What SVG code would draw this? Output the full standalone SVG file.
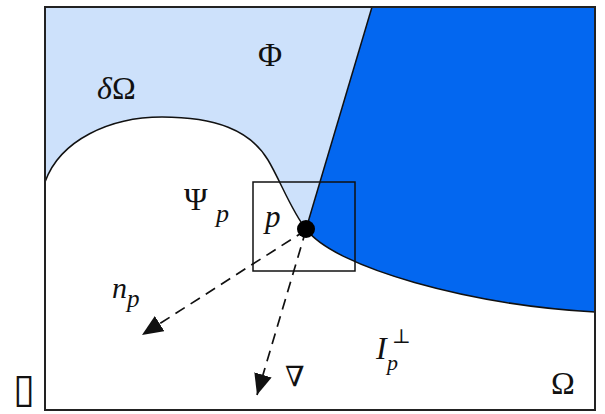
<svg xmlns="http://www.w3.org/2000/svg" width="605" height="414" viewBox="0 0 605 414">
<defs>
<style>
.lbl{font-family:"Liberation Serif","DejaVu Serif",serif;fill:#111;}
.it{font-style:italic;}
.edge{fill:none;stroke:#111;stroke-width:1.5;}
.dash{fill:none;stroke:#111;stroke-width:1.7;stroke-dasharray:11 7;}
</style>
<marker id="ah" markerUnits="userSpaceOnUse" markerWidth="24" markerHeight="20" refX="21" refY="9" orient="auto">
<path d="M0,0 L21,9 L0,18 Z" fill="#111"/>
</marker>
</defs>
<rect x="0" y="0" width="605" height="414" fill="#fff"/>
<g id="region-phi">
<path d="M45,182 C60,140 110,117 162,117 C215,117 250,130 268,160 C280,180 292,212 306,229 L372,7 L45,7 Z" fill="#cde1fb"/>
</g>
<g id="region-dark">
<path d="M306,229 C335,268 470,305 595,312 L595,7 L372,7 Z" fill="#0367f0"/>
</g>
<g id="boundary">
<path class="edge" d="M45,182 C60,140 110,117 162,117 C215,117 250,130 268,160 C280,180 292,212 306,229 C335,268 470,305 595,312"/>
<path class="edge" d="M372,7 L306,229"/>
</g>
<g id="frame">
<rect x="45" y="7" width="550" height="403" fill="none" stroke="#222" stroke-width="2"/>
</g>
<g id="window">
<rect x="253" y="182" width="102" height="89" fill="none" stroke="#111" stroke-width="1.5"/>
</g>
<g id="connectors">
<line class="dash" x1="306" y1="230" x2="142" y2="335" marker-end="url(#ah)"/>
<line class="dash" x1="306" y1="230" x2="257" y2="395" marker-end="url(#ah)"/>
</g>
<g id="point-p">
<circle cx="306" cy="229" r="9" fill="#000"/>
</g>
<g id="labels">
<text class="lbl" x="258" y="66" font-size="33">Φ</text>
<text class="lbl" x="97" y="99" font-size="32"><tspan class="it">δ</tspan>Ω</text>
<text class="lbl" x="184" y="210" font-size="32">Ψ</text>
<text class="lbl it" x="216" y="222" font-size="26">p</text>
<text class="lbl it" x="265" y="227" font-size="31">p</text>
<text class="lbl it" x="112" y="298" font-size="30">n</text>
<text class="lbl it" x="127" y="307" font-size="25">p</text>
<text class="lbl" x="285" y="386" font-size="28">∇</text>
<text class="lbl it" x="376" y="359" font-size="32">I</text>
<text class="lbl" x="392" y="343" font-size="20">⊥</text>
<text class="lbl it" x="387" y="370" font-size="22">p</text>
<text class="lbl" x="551" y="394" font-size="32">Ω</text>
<text x="13" y="402" font-size="40" font-family="DejaVu Sans,sans-serif" fill="#111">▯</text>
</g>
</svg>
